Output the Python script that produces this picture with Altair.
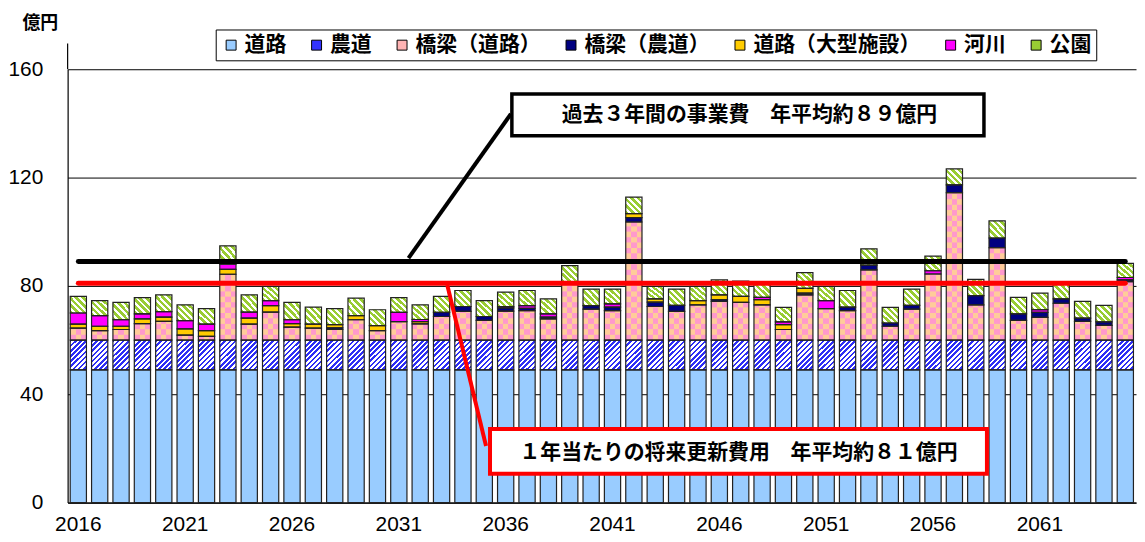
import altair as alt
import pandas as pd

# ---------------- data ----------------
years = [str(y) for y in range(2016, 2066)]
categories = ["道路", "農道", "橋梁（道路）", "橋梁（農道）", "道路（大型施設）", "河川", "公園"]

road = [49.0, 49.0, 49.0, 49.0, 49.0, 49.0, 49.0, 49.0, 49.0, 49.0,
        49.0, 49.0, 49.0, 49.0, 49.0, 49.0, 49.0, 49.0, 49.0, 49.0,
        49.0, 49.0, 49.0, 49.0, 49.0, 49.0, 49.0, 49.0, 49.0, 49.0,
        49.0, 49.0, 49.0, 49.0, 49.0, 49.0, 49.0, 49.0, 49.0, 49.0,
        49.0, 49.0, 49.0, 49.0, 49.0, 49.0, 49.0, 49.0, 49.0, 49.0]
farm_road = [11.0, 11.0, 11.0, 11.0, 11.0, 11.0, 11.0, 11.0, 11.0, 11.0,
             11.0, 11.0, 11.0, 11.0, 11.0, 11.0, 11.0, 11.0, 11.0, 11.0,
             11.0, 11.0, 11.0, 11.0, 11.0, 11.0, 11.0, 11.0, 11.0, 11.0,
             11.0, 11.0, 11.0, 11.0, 11.0, 11.0, 11.0, 11.0, 11.0, 11.0,
             11.0, 11.0, 11.0, 11.0, 11.0, 11.0, 11.0, 11.0, 11.0, 11.0]
bridge_road = [4.4, 3.5, 3.9, 6.1, 6.9, 1.8, 1.4, 24.3, 5.9, 10.3,
               4.8, 4.4, 3.9, 7.5, 3.5, 6.8, 6.0, 8.7, 10.6, 7.3,
               10.7, 10.9, 7.8, 21.6, 11.4, 10.9, 43.6, 12.4, 10.6, 13.0,
               14.3, 13.9, 13.0, 3.9, 16.7, 11.6, 10.9, 25.9, 5.1, 11.4,
               24.4, 54.4, 13.0, 34.1, 7.3, 8.4, 13.6, 6.9, 5.4, 21.6]
bridge_farm = [0, 0, 0, 0, 0, 0, 0, 0, 0, 0,
               0, 0, 0.6, 0, 0, 0, 0, 1.5, 1.8, 1.4,
               1.2, 0.8, 0.7, 0, 1.3, 1.3, 1.6, 1.6, 2.2, 0,
               0.6, 0, 0, 0, 0.6, 0, 1.3, 1.8, 1.2, 1.4,
               0, 2.9, 3.4, 3.6, 2.4, 1.8, 1.6, 1.2, 1.3, 0.6]
large_facility = [1.5, 1.6, 1.2, 1.7, 1.6, 2.3, 2.1, 1.8, 2.2, 2.4,
                  1.3, 1.5, 1.2, 1.5, 1.8, 0, 0.8, 0, 0, 0,
                  0, 0, 0, 0, 0, 0, 1.5, 1.2, 0, 1.6,
                  1.8, 2.2, 1.9, 1.8, 1.8, 0, 0, 0, 0, 0,
                  0, 0, 0, 0, 0, 0, 0, 0, 0, 0]
river = [4.1, 3.9, 2.4, 1.9, 2.0, 3.1, 2.4, 1.9, 2.2, 1.9,
         1.4, 0, 0, 0, 0, 3.4, 0.8, 0, 0, 0,
         0.5, 1.0, 1.2, 0, 0, 1.2, 0, 0, 0, 0,
         0, 0, 0.9, 1.0, 0, 3.0, 0, 0, 0, 0,
         1.2, 0, 0, 0, 0, 1.0, 0, 0, 0, 0.9]
park = [6.1, 5.6, 6.4, 6.0, 6.2, 5.8, 5.7, 6.8, 6.4, 5.2,
        6.4, 6.3, 5.9, 6.5, 5.9, 5.5, 5.4, 5.9, 5.9, 5.9,
        5.3, 5.6, 5.5, 5.9, 6.1, 5.4, 6.1, 4.6, 6.0, 5.2,
        5.5, 5.7, 5.8, 5.4, 5.8, 5.2, 6.1, 6.0, 5.8, 6.0,
        5.4, 5.9, 6.0, 6.3, 6.1, 6.1, 6.4, 6.2, 6.1, 5.2]

tick_years = ["2016", "2021", "2026", "2031", "2036", "2041", "2046", "2051", "2056", "2061"]
y_ticks = [0, 40, 80, 120, 160]

avg_past = 89
avg_future = 81
label_past = "過去３年間の事業費　年平均約８９億円"
label_future = "１年当たりの将来更新費用　年平均約８１億円"
y_title = "億円"

# ---------------- styling ----------------
legend_colors = ["#99CCFF", "#3333FF", "#FFB3B3", "#000080", "#FFCC00", "#FF00FF", "#99CC33"]
FONT = "Noto Sans CJK JP"
NUMFONT = "Liberation Sans"

series = [road, farm_road, bridge_road, bridge_farm, large_facility, river, park]
rows = []
for i, yr in enumerate(years):
    acc = 0.0
    for k, cat in enumerate(categories):
        v = series[k][i]
        if v > 0:
            rows.append({"year": yr, "category": cat, "order": k,
                         "start": acc, "end": acc + v})
        acc += v
seg = pd.DataFrame(rows)

# checker cells for 橋梁（道路）
cell_h = 2.0
cells = []
for _, r in seg[seg["category"] == categories[2]].iterrows():
    s = r["start"]
    k = 0
    while s < r["end"] - 1e-9:
        e = min(s + cell_h, r["end"])
        cells.append({"year": r["year"], "start": s, "end": e, "parity": k % 2})
        s = e
        k += 1
cells = pd.DataFrame(cells)


def stripes(c1, c2, n, frac):
    stops = []
    for i in range(n):
        a = i / n
        b = (i + frac) / n
        c = (i + 1) / n
        stops += [{"offset": a, "color": c1}, {"offset": b, "color": c1},
                  {"offset": b, "color": c2}, {"offset": c, "color": c2}]
    return stops


farm_grad = {"gradient": "linear", "x1": 0, "y1": 0, "x2": 0.65, "y2": 1.2,
             "stops": stripes("#2E2EF5", "#FFFFFF", 9, 0.5)}
park_grad = {"gradient": "linear", "x1": 0, "y1": 1, "x2": 1, "y2": 0,
             "stops": stripes("#99CC33", "#FFFFFF", 5, 0.55)}
pink, peach = "#FF99CC", "#FFCC99"
checkA = {"gradient": "linear", "x1": 0, "y1": 0, "x2": 1, "y2": 0,
          "stops": [{"offset": 0, "color": pink}, {"offset": 0.333, "color": pink},
                    {"offset": 0.333, "color": peach}, {"offset": 0.667, "color": peach},
                    {"offset": 0.667, "color": pink}, {"offset": 1, "color": pink}]}
checkB = {"gradient": "linear", "x1": 0, "y1": 0, "x2": 1, "y2": 0,
          "stops": [{"offset": 0, "color": peach}, {"offset": 0.333, "color": peach},
                    {"offset": 0.333, "color": pink}, {"offset": 0.667, "color": pink},
                    {"offset": 0.667, "color": peach}, {"offset": 1, "color": peach}]}

xscale = alt.Scale(domain=years, paddingInner=0.24, paddingOuter=0.12)
xaxis = alt.Axis(values=tick_years, labelAngle=0, ticks=False, grid=False,
                 domainColor="black", domainWidth=1.2, labelPadding=11,
                 labelFontSize=21, labelFont=NUMFONT, labelColor="black", title=None)
yscale = alt.Scale(domain=[0, 160], nice=False, zero=True)
yaxis = alt.Axis(values=y_ticks, grid=True, gridColor="black", gridWidth=1,
                 ticks=False, domainColor="black", domainWidth=1.2,
                 labelPadding=25, labelFontSize=21, labelFont=NUMFONT, labelColor="black",
                 title=y_title, titleAngle=0, titleX=-28, titleY=-46,
                 titleAlign="center", titleBaseline="middle", titleFont=FONT,
                 titleFontSize=18, titleFontWeight="bold", titleColor="black")


def X(f="year"):
    return alt.X(f"{f}:O", scale=xscale, axis=xaxis, title=None)


def Y(f):
    return alt.Y(f"{f}:Q", scale=yscale, axis=yaxis, title=y_title)


base = alt.Chart(seg).mark_bar().encode(
    x=X(), y=Y("start"), y2="end",
    fill=alt.Fill("category:N", scale=alt.Scale(domain=categories, range=legend_colors),
                  sort=categories,
                  legend=alt.Legend(orient="none", legendX=149, legendY=-40,
                                    direction="horizontal", columns=7, title=None,
                                    strokeColor="black", fillColor="white", padding=5,
                                    labelFont=FONT, labelFontSize=21, labelFontWeight="bold",
                                    labelColor="black", labelLimit=400,
                                    symbolType="square", symbolSize=100,
                                    symbolStrokeColor="black", symbolStrokeWidth=1,
                                    columnPadding=20, labelOffset=3)),
)

farm_layer = alt.Chart(seg[seg["category"] == categories[1]]).mark_bar(fill=farm_grad).encode(
    x=X(), y=Y("start"), y2="end")
park_layer = alt.Chart(seg[seg["category"] == categories[6]]).mark_bar(fill=park_grad).encode(
    x=X(), y=Y("start"), y2="end")
checkA_layer = alt.Chart(cells[cells["parity"] == 0]).mark_bar(fill=checkA).encode(
    x=X(), y=Y("start"), y2="end")
checkB_layer = alt.Chart(cells[cells["parity"] == 1]).mark_bar(fill=checkB).encode(
    x=X(), y=Y("start"), y2="end")
outline = alt.Chart(seg).mark_bar(fill="white", fillOpacity=0, stroke="#222222",
                                  strokeWidth=1.2).encode(x=X(), y=Y("start"), y2="end")

avg_df = pd.DataFrame({"year": [years[0], years[0]], "year_end": [years[-1], years[-1]],
                       "val": [avg_past, avg_future], "kind": ["past", "future"]})
avg_rules = alt.Chart(avg_df).mark_rule(strokeWidth=5, strokeCap="round").encode(
    x=X(), x2="year_end", y=Y("val"),
    color=alt.Color("kind:N", scale=alt.Scale(domain=["past", "future"], range=["black", "#FF0000"]),
                    legend=None))

one = pd.DataFrame({"a": [0]})
axis_ext = alt.Chart(one).mark_rule(color="black", strokeWidth=1.2).encode(
    x=alt.value(0), y=alt.value(-26), y2=alt.value(0))
conn_black = alt.Chart(one).mark_rule(color="black", strokeWidth=4).encode(
    x=alt.value(343), y=alt.value(190), x2=alt.value(446), y2=alt.value(45))
conn_red = alt.Chart(one).mark_rule(color="#FF0000", strokeWidth=4).encode(
    x=alt.value(382), y=alt.value(217), x2=alt.value(421), y2=alt.value(379))
box_black = alt.Chart(one).mark_rect(fill="white", stroke="black", strokeWidth=3.5).encode(
    x=alt.value(447), x2=alt.value(922), y=alt.value(25), y2=alt.value(67))
box_red = alt.Chart(one).mark_rect(fill="white", stroke="#FF0000", strokeWidth=4).encode(
    x=alt.value(425), x2=alt.value(925), y=alt.value(362), y2=alt.value(407))
txt_black = alt.Chart(pd.DataFrame({"t": [label_past]})).mark_text(
    font=FONT, fontSize=21, fontWeight="bold", color="black", align="center",
    baseline="middle").encode(text="t:N", x=alt.value(686), y=alt.value(46.5))
txt_red = alt.Chart(pd.DataFrame({"t": [label_future]})).mark_text(
    font=FONT, fontSize=21, fontWeight="bold", color="black", align="center",
    baseline="middle").encode(text="t:N", x=alt.value(675), y=alt.value(386))

chart = alt.layer(
    base, farm_layer, park_layer, checkA_layer, checkB_layer, outline,
    avg_rules, axis_ext, conn_black, conn_red, box_black, box_red, txt_black, txt_red
).resolve_scale(color="independent").properties(
    width=1075, height=436,
    autosize=alt.AutoSizeParams(type="none"),
    padding={"left": 60, "top": 60, "right": 1, "bottom": 30},
    background="white",
).configure_view(stroke=None)

chart.save("out.html", embed_options={"renderer": "svg", "actions": False})
